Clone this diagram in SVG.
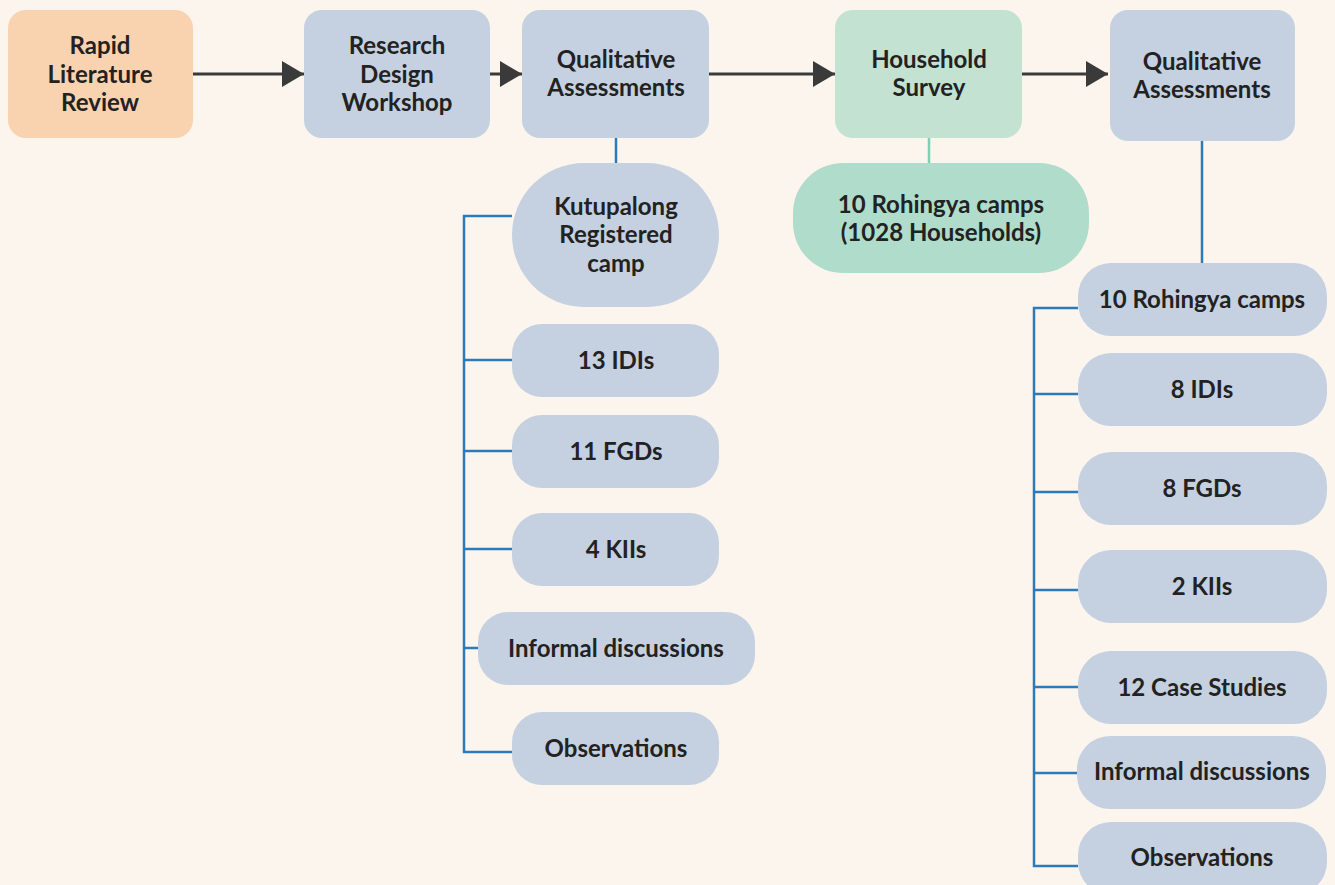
<svg xmlns="http://www.w3.org/2000/svg" width="1335" height="885" viewBox="0 0 1335 885">
<defs>
<style>
.bg{fill:#fcf5ee}
.blue{fill:#c5d1e0}
.peach{fill:#f9d3b0}
.green{fill:#c3e2d2}
.green2{fill:#b0dccb}
text{font-family:Lato,"Open Sans","Liberation Sans",sans-serif;font-weight:700;font-size:24px;fill:#222;text-anchor:middle}
.arrow{stroke:#3a3a3a;stroke-width:3;fill:none}
.conn{stroke:#2b7bba;stroke-width:2.5;fill:none}
.connG{stroke:#7fcfb5;stroke-width:2.5;fill:none}
</style>
<marker id="ah" markerUnits="userSpaceOnUse" markerWidth="22" markerHeight="26" refX="22" refY="13" orient="auto">
<path d="M0,0 L22,13 L0,26 z" fill="#3a3a3a"/>
</marker>
</defs>
<rect class="bg" x="0" y="0" width="1335" height="885"/>
<g id="connectors">
<line class="arrow" x1="193" y1="74" x2="304" y2="74" marker-end="url(#ah)"/>
<line class="arrow" x1="490" y1="74" x2="522" y2="74" marker-end="url(#ah)"/>
<line class="arrow" x1="709" y1="74" x2="835" y2="74" marker-end="url(#ah)"/>
<line class="arrow" x1="1022" y1="74" x2="1108" y2="74" marker-end="url(#ah)"/>
<line class="conn" x1="616" y1="138" x2="616" y2="164"/>
<path class="conn" d="M512,216 H464 V752 H512 M464,360 H512 M464,451 H512 M464,549 H512 M464,648 H478"/>
<line class="connG" x1="929" y1="138" x2="929" y2="181"/>
<line class="conn" x1="1202" y1="123" x2="1202" y2="263"/>
<path class="conn" d="M1078,308 H1034 V866 H1078 M1034,394 H1078 M1034,492 H1078 M1034,590 H1078 M1034,687 H1078 M1034,773 H1078"/>
</g>
<g id="rapid-review"><rect class="peach" x="8" y="10" width="185" height="128" rx="18"/><text x="100" y="54">Rapid</text><text x="100" y="83">Literature</text><text x="100" y="111">Review</text></g>
<g id="research-design"><rect class="blue" x="304" y="10" width="186" height="128" rx="18"/><text x="397" y="54">Research</text><text x="397" y="83">Design</text><text x="397" y="111">Workshop</text></g>
<g id="qual1"><rect class="blue" x="522" y="10" width="187" height="128" rx="18"/><text x="616" y="68">Qualitative</text><text x="616" y="96">Assessments</text></g>
<g id="household"><rect class="green" x="835" y="10" width="187" height="128" rx="18"/><text x="929" y="68">Household</text><text x="929" y="96">Survey</text></g>
<g id="qual2"><rect class="blue" x="1110" y="10" width="185" height="131" rx="18"/><text x="1202" y="70">Qualitative</text><text x="1202" y="98">Assessments</text></g>
<g id="kutupalong"><rect class="blue" x="512" y="163" width="207" height="144" rx="72"/><text x="616" y="215">Kutupalong</text><text x="616" y="243">Registered</text><text x="616" y="272">camp</text></g>
<g id="l-idis"><rect class="blue" x="512" y="324" width="207" height="73" rx="30"/><text x="616" y="369">13 IDIs</text></g>
<g id="l-fgds"><rect class="blue" x="512" y="415" width="207" height="73" rx="30"/><text x="616" y="460">11 FGDs</text></g>
<g id="l-kiis"><rect class="blue" x="512" y="513" width="207" height="73" rx="30"/><text x="616" y="558">4 KIIs</text></g>
<g id="l-informal"><rect class="blue" x="478" y="612" width="277" height="73" rx="30"/><text x="616" y="657">Informal discussions</text></g>
<g id="l-obs"><rect class="blue" x="512" y="712" width="207" height="73" rx="30"/><text x="616" y="757">Observations</text></g>
<g id="hh-camps"><rect class="green2" x="793" y="163" width="296" height="110" rx="50"/><text x="941" y="213">10 Rohingya camps</text><text x="941" y="241">(1028 Households)</text></g>
<g id="r-camps"><rect class="blue" x="1078" y="263" width="249" height="73" rx="33"/><text x="1202" y="308">10 Rohingya camps</text></g>
<g id="r-idis"><rect class="blue" x="1078" y="353" width="249" height="73" rx="33"/><text x="1202" y="398">8 IDIs</text></g>
<g id="r-fgds"><rect class="blue" x="1078" y="452" width="249" height="73" rx="33"/><text x="1202" y="497">8 FGDs</text></g>
<g id="r-kiis"><rect class="blue" x="1078" y="550" width="249" height="73" rx="33"/><text x="1202" y="595">2 KIIs</text></g>
<g id="r-case"><rect class="blue" x="1078" y="651" width="249" height="73" rx="33"/><text x="1202" y="696">12 Case Studies</text></g>
<g id="r-informal"><rect class="blue" x="1077" y="736" width="249" height="73" rx="33"/><text x="1202" y="780">Informal discussions</text></g>
<g id="r-obs"><rect class="blue" x="1078" y="822" width="249" height="73" rx="33"/><text x="1202" y="866">Observations</text></g>
</svg>
